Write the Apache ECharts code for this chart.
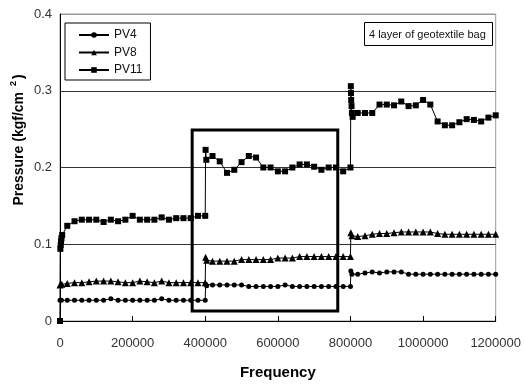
<!DOCTYPE html>
<html>
<head>
<meta charset="utf-8">
<script src="https://cdn.jsdelivr.net/npm/echarts@6/dist/echarts.min.js"></script>
<style>
  html, body { margin: 0; padding: 0; background: #fff; }
  #chart { width: 524px; height: 385px; }
</style>
</head>
<body>
<div id="chart"></div>
<script>
// sample frequencies (every 20000)
var freq = [0, 20000, 40000, 60000, 80000, 100000, 120000, 140000, 160000, 180000,
  200000, 220000, 240000, 260000, 280000, 300000, 320000, 340000, 360000, 380000,
  400000, 420000, 440000, 460000, 480000, 500000, 520000, 540000, 560000, 580000,
  600000, 620000, 640000, 660000, 680000, 700000, 720000, 740000, 760000, 780000,
  800000, 820000, 840000, 860000, 880000, 900000, 920000, 940000, 960000, 980000,
  1000000, 1020000, 1040000, 1060000, 1080000, 1100000, 1120000, 1140000, 1160000, 1180000,
  1200000];

var pv4 = [0.027, 0.027, 0.027, 0.027, 0.027, 0.027, 0.027, 0.029, 0.027, 0.027,
  0.027, 0.027, 0.027, 0.027, 0.029, 0.027, 0.027, 0.027, 0.027, 0.027,
  0.027, 0.047, 0.047, 0.047, 0.047, 0.047, 0.045, 0.045, 0.045, 0.045,
  0.045, 0.047, 0.045, 0.045, 0.045, 0.045, 0.045, 0.045, 0.045, 0.045,
  0.045, 0.061, 0.0625, 0.064, 0.0625, 0.064, 0.064, 0.064, 0.061, 0.061,
  0.061, 0.061, 0.061, 0.061, 0.061, 0.061, 0.061, 0.061, 0.061, 0.061,
  0.061];

var pv8 = [0.047, 0.049, 0.050, 0.050, 0.051, 0.052, 0.052, 0.052, 0.051, 0.050,
  0.050, 0.052, 0.051, 0.050, 0.052, 0.050, 0.050, 0.050, 0.050, 0.050,
  0.050, 0.078, 0.078, 0.078, 0.078, 0.080, 0.080, 0.080, 0.080, 0.080,
  0.082, 0.082, 0.082, 0.084, 0.084, 0.084, 0.084, 0.084, 0.084, 0.084,
  0.084, 0.110, 0.111, 0.113, 0.114, 0.114, 0.115, 0.116, 0.116, 0.116,
  0.116, 0.116, 0.114, 0.113, 0.113, 0.113, 0.113, 0.113, 0.113, 0.113,
  0.113];

var pv11 = [0, 0.124, 0.130, 0.132, 0.132, 0.132, 0.129, 0.132, 0.130, 0.132,
  0.137, 0.132, 0.132, 0.132, 0.135, 0.132, 0.134, 0.134, 0.134, 0.137,
  0.137, 0.215, 0.208, 0.193, 0.197, 0.207, 0.215, 0.213, 0.200, 0.200,
  0.195, 0.195, 0.200, 0.204, 0.204, 0.201, 0.197, 0.200, 0.200, 0.195,
  0.200, 0.271, 0.271, 0.271, 0.282, 0.282, 0.281, 0.286, 0.280, 0.281,
  0.288, 0.282, 0.260, 0.255, 0.255, 0.259, 0.263, 0.262, 0.260, 0.265,
  0.268];

// extra readings taken right at the load steps
var pv4Jump = [[4000, 0.027], [401000, 0.048], [404000, 0.046], [801000, 0.065], [804000, 0.061]];
var pv8Jump = [[5000, 0.048], [401000, 0.083], [404000, 0.079], [801000, 0.115], [804000, 0.111]];
var pv11Jump = [[1000, 0.094], [2000, 0.099], [3000, 0.104], [4000, 0.108], [6000, 0.112],
  [401000, 0.223], [403000, 0.210],
  [801000, 0.306], [801500, 0.297], [802000, 0.288], [803000, 0.280], [804000, 0.271], [806000, 0.266]];

var seriesNames = ['PV4', 'PV8', 'PV11'];
var xTicks = [0, 200000, 400000, 600000, 800000, 1000000, 1200000];
var yTicks = [0, 0.1, 0.2, 0.3, 0.4];

// highlighted window
var boxFreq = [364000, 765000];
var boxPressure = [0.013, 0.249];

function merge(vals, extra) {
  var pts = freq.map(function (f, i) { return [f, vals[i]]; }).concat(extra);
  // stable sort keeps the regular point before step readings at the same freq
  pts.sort(function (a, b) { return a[0] - b[0]; });
  return pts;
}

var font = "'Liberation Sans', Arial, sans-serif";
var chart = echarts.init(document.getElementById('chart'), null, { renderer: 'canvas' });

function lineSeries(name, data, symbol, size) {
  return {
    name: name,
    type: 'line',
    data: data,
    symbol: symbol,
    symbolSize: size,
    showAllSymbol: true,
    animation: false,
    lineStyle: { color: '#000', width: 1 },
    itemStyle: { color: '#000', borderWidth: 0 }
  };
}

var s11 = lineSeries(seriesNames[2], merge(pv11, pv11Jump), 'rect', 6);
s11.markArea = {
  silent: true,
  itemStyle: { color: 'rgba(0,0,0,0)', borderColor: '#000', borderWidth: 3 },
  label: { show: false },
  data: [[{ coord: [boxFreq[0], boxPressure[0]] }, { coord: [boxFreq[1], boxPressure[1]] }]]
};

var option = {
  backgroundColor: '#fff',
  animation: false,
  title: {
    text: '4 layer of geotextile bag',
    left: 364,
    top: 22,
    padding: [7, 7, 6, 5],
    borderColor: '#000',
    borderWidth: 1,
    textStyle: { fontFamily: font, fontSize: 11, fontWeight: 'normal', color: '#111' }
  },
  legend: {
    data: seriesNames,
    orient: 'vertical',
    left: 65,
    top: 23,
    padding: [6, 8, 4, 13],
    itemWidth: 30,
    itemHeight: 7,
    itemGap: 5.5,
    borderColor: '#000',
    borderWidth: 1,
    selectedMode: false,
    textStyle: { fontFamily: font, fontSize: 12, color: '#111' }
  },
  grid: {
    left: 60, right: 26, top: 14, bottom: 63,
    show: true, borderColor: '#999', borderWidth: 1
  },
  xAxis: {
    type: 'value',
    min: xTicks[0],
    max: xTicks[xTicks.length - 1],
    interval: xTicks[1] - xTicks[0],
    name: 'Frequency',
    nameLocation: 'middle',
    nameGap: 44,
    nameTextStyle: { fontFamily: font, fontSize: 15, fontWeight: 'bold', color: '#000' },
    axisLine: { lineStyle: { color: '#000', width: 1 } },
    axisTick: { inside: true, length: 5, lineStyle: { color: '#000' } },
    axisLabel: {
      fontFamily: font, fontSize: 13, color: '#333', margin: 16,
      formatter: function (v) { return String(v); }
    },
    splitLine: { show: false }
  },
  yAxis: {
    type: 'value',
    min: yTicks[0],
    max: yTicks[yTicks.length - 1],
    interval: yTicks[1] - yTicks[0],
    axisLine: { show: true, lineStyle: { color: '#000', width: 1 } },
    axisTick: { show: false },
    axisLabel: { fontFamily: font, fontSize: 13, color: '#333', margin: 8 },
    splitLine: { lineStyle: { color: ['#333', '#333', '#333', '#333', '#999'], width: 1 } }
  },
  graphic: [{
    type: 'text',
    x: 19,
    y: 140,
    rotation: Math.PI / 2,
    style: {
      text: '{a|Pressure (kgf/cm }{s|2}{a|)}',
      align: 'center',
      verticalAlign: 'middle',
      fill: '#000',
      rich: {
        a: { fontFamily: font, fontSize: 14, fontWeight: 'bold', fill: '#000' },
        s: { fontFamily: font, fontSize: 9, fontWeight: 'bold', fill: '#000', padding: [0, 2, 10, 2] }
      }
    }
  }],
  series: [
    lineSeries(seriesNames[0], merge(pv4, pv4Jump), 'circle', 5),
    lineSeries(seriesNames[1], merge(pv8, pv8Jump), 'triangle', 7),
    s11
  ]
};

chart.setOption(option);
</script>
</body>
</html>
